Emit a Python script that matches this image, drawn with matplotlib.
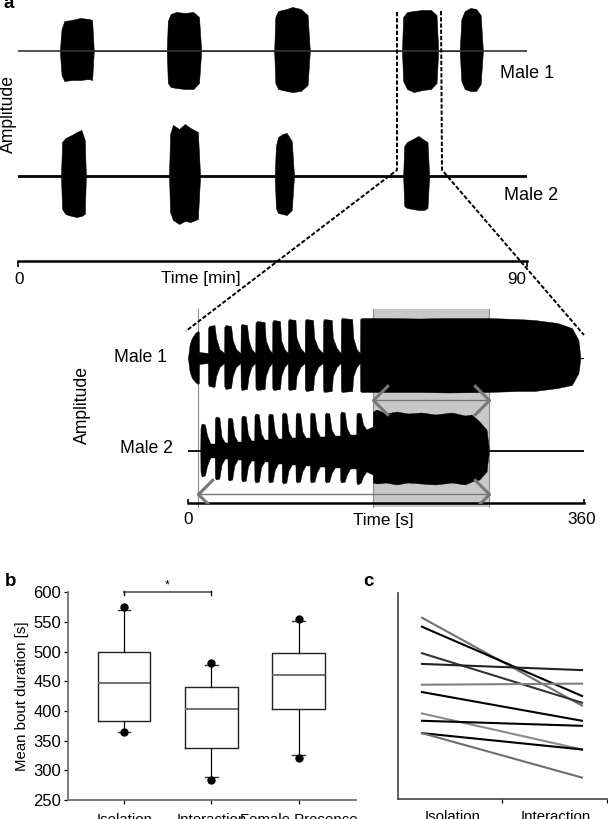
import matplotlib
matplotlib.use('Agg')
import matplotlib.pyplot as plt
from matplotlib.path import Path

plt.rcParams['font.family'] = ['Liberation Sans', 'DejaVu Sans']

W, H = 608, 819

#==============================================================================
# panel a, overview (minutes, amplitude up and down from each baseline)
#==============================================================================
m1_over_t  = [7.4, 7.7, 8.2, 9.5, 11, 12.5, 13.1, 13.4,
              26.3, 26.5, 27, 28, 29.5, 31, 32, 32.4,
              45.3, 45.5, 46, 47.5, 48.5, 50, 51.2, 51.6,
              67.9, 68.1, 68.8, 70, 71.5, 73, 74, 74.3,
              78.1, 78.4, 79, 80, 81, 81.8, 82.2]
m1_over_up = [0, 22, 30, 31, 33, 32, 31, 0,
              0, 30, 37, 39, 38, 39, 34, 0,
              0, 34, 40, 42, 44, 42, 36, 0,
              0, 34, 39, 40, 41, 41, 36, 0,
              0, 32, 40, 43, 42, 36, 0]
m1_over_dn = [0, 24, 30, 29, 29, 28, 29, 0,
              0, 32, 36, 37, 38, 38, 32, 0,
              0, 32, 38, 40, 41, 40, 34, 0,
              0, 30, 38, 41, 39, 38, 32, 0,
              0, 30, 38, 40, 40, 33, 0]

m2_over_t  = [7.6, 7.8, 8.4, 9.5, 10.4, 11.2, 11.8, 12,
              26.7, 26.9, 27.4, 28.5, 29.5, 30.5, 31.8, 32.2,
              45.4, 45.6, 46, 46.8, 47.5, 48.4, 48.8,
              68.1, 68.3, 68.8, 69.8, 70.8, 71.8, 72.4, 72.7]
m2_over_up = [0, 34, 38, 41, 44, 46, 36, 0,
              0, 42, 51, 47, 52, 48, 44, 0,
              0, 30, 39, 42, 43, 35, 0,
              0, 30, 34, 37, 40, 36, 34, 0]
m2_over_dn = [0, 33, 38, 40, 41, 40, 38, 0,
              0, 36, 44, 48, 45, 46, 43, 0,
              0, 32, 37, 38, 39, 34, 0,
              0, 30, 32, 33, 34, 34, 32, 0]

#==============================================================================
# panel a, close-up (seconds, amplitude up and down from each baseline)
#==============================================================================
m1_zoom_t = [0.5, 2, 4, 7, 9.4, 10.3, 10.5, 18.5,
             18.7, 19.5, 24.5, 26, 29, 33.2,
             33.4, 34.5, 39.5, 41, 44, 48.1,
             48.3, 49, 54, 55.5, 58, 61.5,
             61.7, 63, 70, 71, 74, 76.8,
             77, 78, 84, 85, 88, 91.1,
             91.3, 92, 98, 99, 102.5, 106.4,
             106.6, 107.5, 114, 115, 118.5, 122.9,
             123.1, 124, 131, 132, 135.5, 139.1,
             139.3, 140, 149.5, 150.5, 153.5, 156.6,
             156.8, 158, 180, 210, 237, 273, 300, 315, 336, 349, 355, 356.5]
m1_zoom_up = [1, 14, 20, 25, 27, 26, 6, 5,
              30, 32, 33, 20, 9, 5,
              31, 33, 32, 18, 9, 5,
              32, 34, 33, 18, 9, 5,
              35, 37, 36, 18, 9, 5,
              36, 38, 37, 18, 9, 5,
              37, 39, 38, 20, 10, 5,
              37, 39, 38, 20, 10, 5,
              37, 39, 38, 20, 10, 5,
              38, 40, 39, 20, 9, 5,
              39, 40, 40, 39.5, 40, 40, 39, 38, 35, 30, 18, 2]
m1_zoom_dn = [1, 14, 20, 24, 26, 25, 6, 5,
              26, 28, 29, 18, 9, 5,
              28, 31, 30, 18, 9, 5,
              29, 32, 31, 18, 9, 5,
              30, 32, 31, 18, 9, 5,
              30, 32, 31, 18, 9, 5,
              30, 32, 31, 18, 9, 5,
              31, 33, 32, 18, 9, 5,
              32, 34, 33, 18, 9, 5,
              32, 34, 33, 18, 9, 5,
              33, 34, 34, 34, 34.5, 34, 33, 33, 30, 27, 15, 2]

m2_zoom_t = [11.6, 11.8, 12.8, 15.8, 17.8, 20.8, 24.7,
             24.9, 25.9, 28.9, 30.9, 33.9, 36.3,
             36.5, 37.5, 40.5, 42.5, 45.5, 48.7,
             48.9, 49.9, 52.9, 54.9, 57.9, 60.6,
             60.8, 61.8, 64.8, 66.8, 69.8, 73.1,
             73.3, 74.3, 77.3, 79.3, 82.3, 85.5,
             85.7, 86.7, 89.7, 91.7, 94.7, 98,
             98.2, 99.2, 102.2, 104.2, 107.2, 111.1,
             111.3, 112.3, 115.3, 117.3, 120.3, 124.5,
             124.7, 125.7, 128.7, 130.7, 133.7, 138.5,
             138.7, 139.7, 142.7, 144.7, 147.7, 153.2,
             153.4, 154.4, 157.4, 159.4, 162.4, 168.1,
             168.3, 172, 180, 190, 200, 212, 225, 240, 252, 258, 265, 271.5, 273.4]
m2_zoom_up = [2, 22, 27, 26, 15, 7, 7,
              32, 34, 33, 14, 8, 8,
              31, 33, 32, 15, 9, 9,
              33, 35, 34, 16, 10, 10,
              35, 37, 36, 17, 11, 11,
              35, 37, 36, 18, 12, 12,
              36, 38, 37, 19, 13, 13,
              36, 38, 37, 19, 13, 13,
              36, 38, 37, 20, 14, 14,
              36, 38, 37, 21, 15, 15,
              37, 39, 38, 22, 16, 16,
              36, 38, 37, 26, 21, 24,
              39, 41, 37, 39, 37, 38, 36, 38, 35, 36, 29, 21, 4]
m2_zoom_dn = [2, 21, 26, 25, 15, 7, 7,
              27, 29, 28, 14, 8, 8,
              28, 30, 29, 15, 9, 9,
              29, 31, 30, 16, 10, 10,
              30, 32, 31, 17, 11, 11,
              30, 32, 31, 19, 13, 13,
              31, 33, 32, 20, 14, 14,
              30, 32, 31, 21, 15, 15,
              30, 32, 31, 22, 16, 16,
              30, 32, 31, 23, 17, 17,
              30, 32, 31, 24, 18, 18,
              32, 34, 32, 26, 21, 24,
              32, 33, 32, 34, 32, 33, 34, 32, 34, 31, 29, 21, 3]

span_start, span_end = 168.2, 273.9
bout_start = 9.6

#==============================================================================
# panels b and c
#==============================================================================
conditions = ['Isolation', 'Interaction', 'Female Presence']
q1_vals  = [383, 337, 404]
med_vals = [448, 404, 461]
q3_vals  = [499, 441, 498]
lo_vals  = [365, 289, 325]
hi_vals  = [570, 478, 551]
low_pts  = [365, 284, 320]
high_pts = [576, 481, 555]

iso_vals = [572, 556, 509, 490, 453, 440, 402, 389, 367, 367]
int_vals = [416, 433, 421, 479, 455, 389, 338, 380, 338, 288]
line_cols = ['#69727a', '#000000', '#333333', '#222222', '#808080',
             '#000000', '#8a8a8a', '#000000', '#000000', '#6e6e6e']


def px_axes(fig, left, top, right, bottom):
    return fig.add_axes([left/W, 1-bottom/H, (right-left)/W, (bottom-top)/H])


def px_text(fig, x, y, s, size, **kw):
    kw.setdefault('ha', 'center')
    kw.setdefault('va', 'center')
    fig.text(x/W, 1-y/H, s, fontsize=size, **kw)


fig = plt.figure(figsize=(W/100, H/100), dpi=100)

#------------------------------ a, overview -----------------------------------
ax = px_axes(fig, 18, 5, 527, 261)
ax.set_xlim(0, 90)
ax.set_ylim(-210, 46)
row2 = -125
ax.axhline(0, color='#333333', lw=1.2)
ax.axhline(row2, color='black', lw=2)
ax.fill_between(m1_over_t, m1_over_up, [-v for v in m1_over_dn], color='black', lw=0.4)
ax.fill_between(m2_over_t, [row2+v for v in m2_over_up], [row2-v for v in m2_over_dn],
                color='black', lw=0.4)
for s in ['top', 'left', 'right']:
    ax.spines[s].set_visible(False)
ax.spines['bottom'].set_linewidth(1.8)
ax.set_yticks([])
ax.set_xticks([0, 90])
ax.set_xticklabels([])
ax.tick_params(axis='x', length=4, width=1.2)

#------------------------------ a, close-up -----------------------------------
ax = px_axes(fig, 187.5, 305, 584, 503)
ax.set_xlim(0, 360)
ax.set_ylim(-145, 53)
row2 = -92.5
ax.axvspan(span_start, span_end, ymin=-0.02, ymax=0.98, color='#c8c8c8', lw=0, clip_on=False, zorder=0)
for xv in [bout_start, span_start, span_end]:
    ax.axvline(xv, ymin=-0.02, ymax=0.98, color='#8c8c8c', lw=0.8, clip_on=False, zorder=1)
ax.plot([0, 360], [0, 0], color='black', lw=0.8, zorder=2)
ax.plot([0, 360], [row2, row2], color='black', lw=1.3, zorder=2)
ax.fill_between(m1_zoom_t, m1_zoom_up, [-v for v in m1_zoom_dn], color='black', lw=0.3, zorder=3)
ax.fill_between(m2_zoom_t, [row2+v for v in m2_zoom_up], [row2-v for v in m2_zoom_dn],
                color='black', lw=0.3, zorder=3)

# double headed grey arrows, thin shaft with open heads
left_head = Path([(1, 1), (0, 0), (1, -1)], [Path.MOVETO, Path.LINETO, Path.LINETO])
right_head = Path([(-1, 1), (0, 0), (-1, -1)], [Path.MOVETO, Path.LINETO, Path.LINETO])
for x0, x1, yv in [(span_start, span_end, -42), (bout_start, span_end, -136)]:
    ax.plot([x0, x1], [yv, yv], color='#777777', lw=1, zorder=4)
    ax.plot(x0, yv, marker=left_head, ms=22, mfc='none', mec='#777777', mew=2.2, zorder=4)
    ax.plot(x1, yv, marker=right_head, ms=22, mfc='none', mec='#777777', mew=2.2, zorder=4)

for s in ['top', 'left', 'right']:
    ax.spines[s].set_visible(False)
ax.spines['bottom'].set_linewidth(1.8)
ax.set_yticks([])
ax.set_xticks([0, 360])
ax.set_xticklabels([])
ax.tick_params(axis='x', direction='in', length=3, width=1.2)
ax.patch.set_alpha(0)

#------------------------------ connectors ------------------------------------
over = fig.add_axes([0, 0, 1, 1])
over.set_xlim(0, W)
over.set_ylim(H, 0)
over.axis('off')
over.plot([397, 397, 186], [12, 170, 331], color='black', lw=1.4, ls=(0, (2.2, 1)))
over.plot([441, 442, 584], [11, 170, 335], color='black', lw=1.4, ls=(0, (2.2, 1)))

#------------------------------ b ---------------------------------------------
ax = px_axes(fig, 68, 592.3, 356, 800)
stats = []
for i in range(3):
    stats.append({'q1': q1_vals[i], 'med': med_vals[i], 'q3': q3_vals[i],
                  'whislo': lo_vals[i], 'whishi': hi_vals[i], 'fliers': []})
ax.bxp(stats, positions=[1, 2, 3], widths=0.6, capwidths=0.14, showfliers=False,
       boxprops={'color': '#222222', 'lw': 1},
       medianprops={'color': '#666666', 'lw': 1.3},
       whiskerprops={'color': 'black', 'lw': 0.9},
       capprops={'color': '#333333', 'lw': 1})
ax.plot([1, 2, 3], high_pts, 'o', color='black', ms=5, clip_on=False)
ax.plot([1, 2, 3], low_pts, 'o', color='black', ms=5, clip_on=False)
ax.plot([1, 2], [600, 600], color='#555555', lw=1.2, clip_on=False)
ax.plot([1, 1], [596, 602], color='black', lw=1, clip_on=False)
ax.plot([2, 2], [596, 602], color='black', lw=1, clip_on=False)
ax.text(1.49, 611, '*', ha='center', va='center', fontsize=9)
ax.set_xlim(0.353, 3.66)
ax.set_ylim(250, 600)
ax.set_yticks(range(250, 601, 50))
ax.set_xticks([1, 2, 3])
ax.set_xticklabels(conditions, fontsize=10.8)
ax.tick_params(axis='y', labelsize=12, length=3, width=0.9, pad=2)
ax.tick_params(axis='x', length=3, width=0.9, pad=6)
ax.set_ylabel('Mean bout duration [s]', fontsize=10.8, labelpad=3)
for s in ['top', 'right']:
    ax.spines[s].set_visible(False)
for s in ['left', 'bottom']:
    ax.spines[s].set_color('#666666')
    ax.spines[s].set_linewidth(1.2)

#------------------------------ c ---------------------------------------------
ax = px_axes(fig, 398, 593, 607, 799)
for a, b, col in zip(iso_vals, int_vals, line_cols):
    ax.plot([0, 1], [a, b], color=col, lw=1.5)
ax.set_xlim(-0.15, 1.156)
ax.set_ylim(250, 616)
ax.set_yticks([])
ax.set_xticks([0.5, 1.156])
ax.set_xticklabels([])
ax.set_xticks([0.194, 0.8375], minor=True)
ax.set_xticklabels(['Isolation', 'Interaction'], minor=True, fontsize=10.8)
ax.tick_params(axis='x', which='major', length=3, width=0.9)
ax.tick_params(axis='x', which='minor', length=0, pad=8)
for s in ['top', 'right']:
    ax.spines[s].set_visible(False)
for s in ['left', 'bottom']:
    ax.spines[s].set_color('#444444')
    ax.spines[s].set_linewidth(1.2)

#------------------------------ text ------------------------------------------
px_text(fig, 8, 114, 'Amplitude', 12.7, rotation=90)
px_text(fig, 527, 73, 'Male 1', 13)
px_text(fig, 531, 195, 'Male 2', 13)
px_text(fig, 19, 280, '0', 12.3)
px_text(fig, 201, 278, 'Time [min]', 12.3)
px_text(fig, 517, 280, '90', 12.3)
px_text(fig, 82, 405, 'Amplitude', 12.7, rotation=90)
px_text(fig, 140, 358, 'Male 1', 12.7)
px_text(fig, 146, 448, 'Male 2', 12.7)
px_text(fig, 188, 520, '0', 12.3)
px_text(fig, 383, 520, 'Time [s]', 12.3)
px_text(fig, 582, 520, '360', 12.3)
px_text(fig, 9, 4, 'a', 13.5, fontweight='bold')
px_text(fig, 11, 581, 'b', 13.5, fontweight='bold')
px_text(fig, 368, 582, 'c', 13.5, fontweight='bold')

plt.savefig('out.png', dpi=100)
